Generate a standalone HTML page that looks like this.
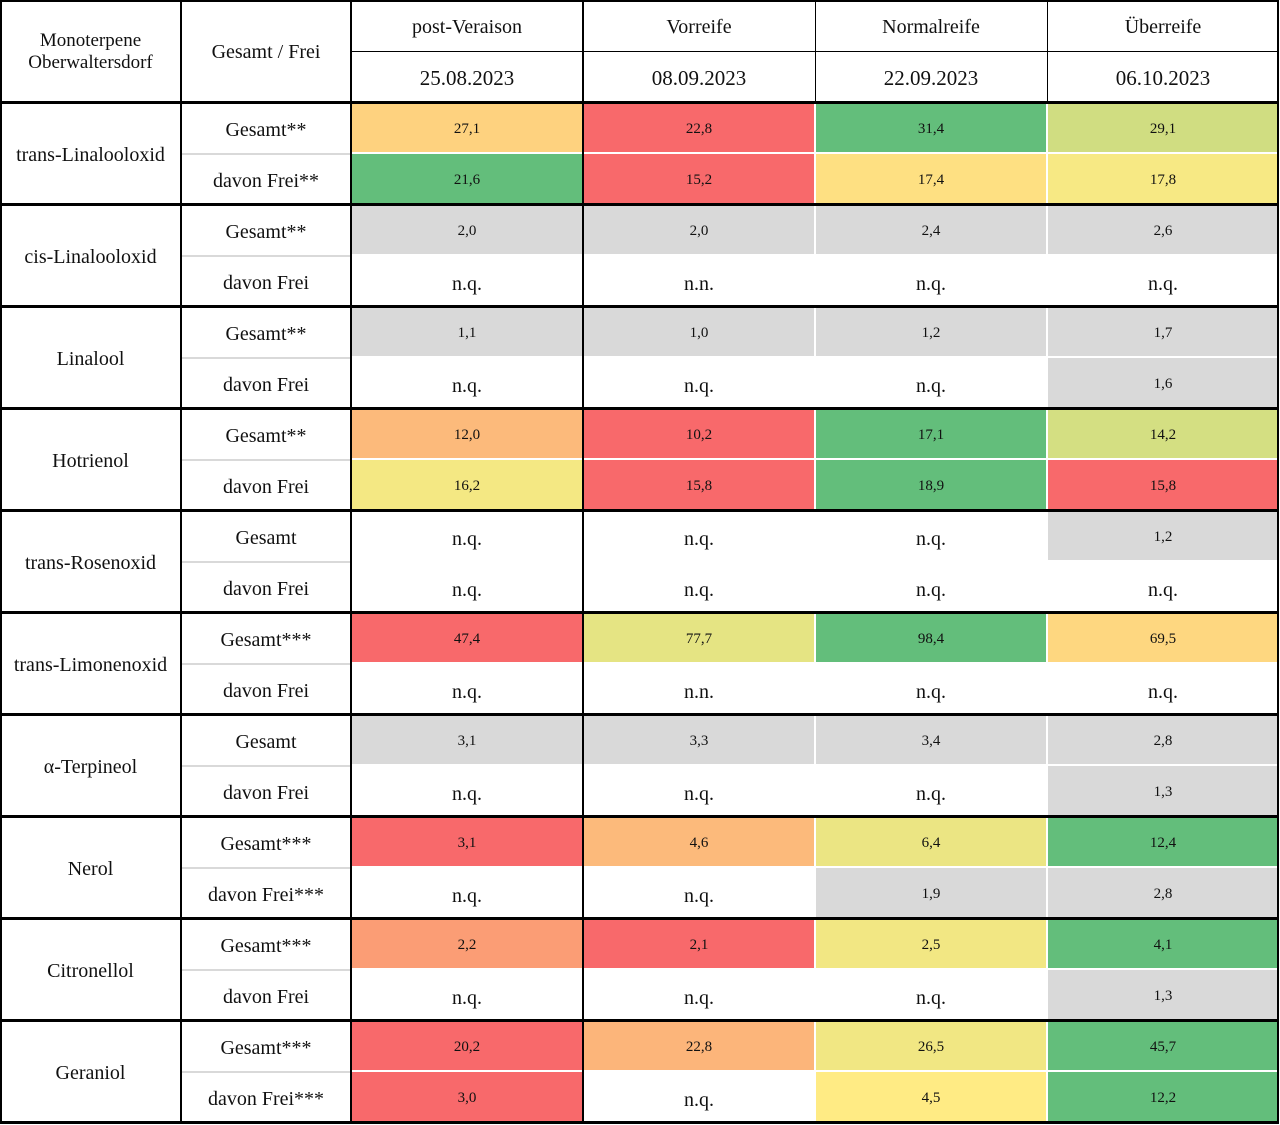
<!DOCTYPE html>
<html><head><meta charset="utf-8"><style>
body{margin:0;background:#fff;width:1280px;height:1125px;overflow:hidden;font-family:"Liberation Serif","Times New Roman",serif;}
#t{position:relative;width:1280px;height:1125px;}
.c{position:absolute;display:flex;align-items:center;justify-content:center;text-align:center;color:#111;box-sizing:border-box;}
.l{position:absolute;background:#000;}
</style></head><body>
<div id="t"></div>
<script>
const compounds=["trans-Linalooloxid","cis-Linalooloxid","Linalool","Hotrienol","trans-Rosenoxid","trans-Limonenoxid","α-Terpineol","Nerol","Citronellol","Geraniol"];
const rowLabels=["Gesamt**","davon Frei**","Gesamt**","davon Frei","Gesamt**","davon Frei","Gesamt**","davon Frei","Gesamt","davon Frei","Gesamt***","davon Frei","Gesamt","davon Frei","Gesamt***","davon Frei***","Gesamt***","davon Frei","Gesamt***","davon Frei***"];
const stages=["post-Veraison","Vorreife","Normalreife","Überreife"];
const dates=["25.08.2023","08.09.2023","22.09.2023","06.10.2023"];
const values=[
["27,1","22,8","31,4","29,1"],["21,6","15,2","17,4","17,8"],
["2,0","2,0","2,4","2,6"],["n.q.","n.n.","n.q.","n.q."],
["1,1","1,0","1,2","1,7"],["n.q.","n.q.","n.q.","1,6"],
["12,0","10,2","17,1","14,2"],["16,2","15,8","18,9","15,8"],
["n.q.","n.q.","n.q.","1,2"],["n.q.","n.q.","n.q.","n.q."],
["47,4","77,7","98,4","69,5"],["n.q.","n.n.","n.q.","n.q."],
["3,1","3,3","3,4","2,8"],["n.q.","n.q.","n.q.","1,3"],
["3,1","4,6","6,4","12,4"],["n.q.","n.q.","1,9","2,8"],
["2,2","2,1","2,5","4,1"],["n.q.","n.q.","n.q.","1,3"],
["20,2","22,8","26,5","45,7"],["3,0","n.q.","4,5","12,2"]];
const colored=[1,1,0,0,0,0,1,1,0,0,1,0,0,0,1,0,1,0,1,1];

const T=document.getElementById('t');
const colX=[0,181,351,583,815,1047,1279];
const top0=102,rowH=51;
function rowY(i){return top0+i*rowH;}
function lerp(a,b,t){return a.map((v,k)=>Math.round(v+(b[k]-v)*t));}
const RED=[248,105,107],YEL=[255,235,132],GRN=[99,190,123];
function scaleColor(v,nums){
  const s=[...nums].sort((a,b)=>a-b);const mn=s[0],mx=s[s.length-1];
  const p=(s.length-1)*0.5,lo=Math.floor(p),hi=Math.ceil(p);const md=s[lo]+(s[hi]-s[lo])*(p-lo);
  let c;
  if(v<=md)c=lerp(RED,YEL,md===mn?1:(v-mn)/(md-mn));else c=lerp(YEL,GRN,mx===md?1:(v-md)/(mx-md));
  return 'rgb('+c.join(',')+')';
}
function cell(x,y,w,h,txt,fs,bg,name,pt){
  const d=document.createElement('div');d.className='c';
  d.style.cssText=`left:${x}px;top:${y}px;width:${w}px;height:${h}px;font-size:${fs}px;background:${bg||'transparent'};padding-top:${pt||0}px`;
  d.textContent=txt;
  
  
  T.appendChild(d);return d;
}
function line(x,y,w,h,col,name){
  const d=document.createElement('div');d.className='l';
  d.style.cssText=`left:${x}px;top:${y}px;width:${w}px;height:${h}px;background:${col||'#000'}`;
  
  
  T.appendChild(d);
}
// header
cell(0,0,181,102,"",19,null,'header-compound',2).innerHTML="Monoterpene<br>Oberwaltersdorf";
cell(181,0,170,102,"Gesamt / Frei",20,null,'header-type',2);
stages.forEach((s,i)=>{cell(colX[i+2],0,colX[i+3]-colX[i+2],51,s,20,null,'header-stage',4);cell(colX[i+2],51,colX[i+3]-colX[i+2],51,dates[i],21,null,'header-date',3);});
// body
compounds.forEach((c,g)=>cell(0,rowY(g*2),181,rowH*2,c,20,null,'compound-label',4));
rowLabels.forEach((r,i)=>{
  cell(181,rowY(i),170,rowH,r,20,null,'row-type-label',5);
  const nums=values[i].filter(v=>/\d/.test(v)).map(v=>parseFloat(v.replace(',','.')));
  values[i].forEach((v,j)=>{
    const isNum=/\d/.test(v);
    let bg=null;
    if(isNum)bg=colored[i]?scaleColor(parseFloat(v.replace(',','.')),nums):'#d9d9d9';
    const x=colX[j+2]+1,w=colX[j+3]-colX[j+2]-2;
    cell(x,rowY(i)+1,w,rowH-2,v,isNum?15:20,bg,'value-cell',isNum?3:8);
  });
});
// inner row separators in type column
for(let g=0;g<10;g++)line(181,rowY(g*2+1),170,2,'#d9d9d9','row-separator');
// grid lines
line(351,51,928,1,'#000','header-mid-line');
[815,1047].forEach(x=>line(x,0,1,102,'#000','header-col-line'));
[181,351,583].forEach(x=>line(x-1,0,2,1122,'#000','col-line'));
line(0,0,2,1123,'#000','left-border');line(1277,0,2,1123,'#000','right-border');
line(0,0,1279,2,'#000','top-border');
for(let g=0;g<=10;g++)line(0,rowY(g*2)-1,1279,3,'#000','group-line');
</script>
</body></html>
